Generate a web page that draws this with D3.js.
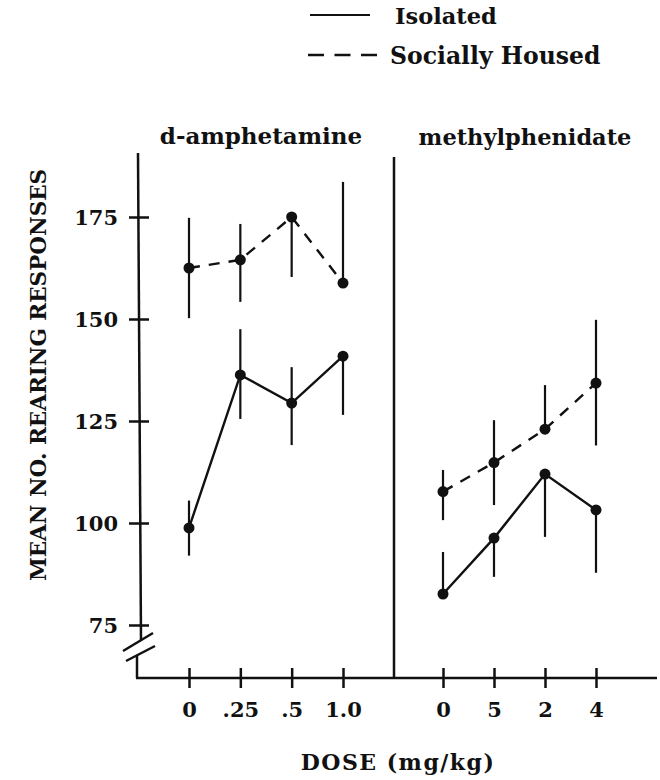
<!DOCTYPE html>
<html>
<head>
<meta charset="utf-8">
<script src="https://cdn.jsdelivr.net/npm/d3@7/dist/d3.min.js"></script>
<style>
  html, body { margin: 0; padding: 0; background: #fff; }
  svg { display: block; }
  text { font-family: "DejaVu Serif", serif; font-weight: bold; fill: #111; }
</style>
</head>
<body>
<svg id="chart" width="660" height="780"></svg>
<script>
// ---- data ----
const ampDoses = ["0", ".25", ".5", "1.0"];
const mphDoses = ["0", "5", "2", "4"];
const yTicks = [75, 100, 125, 150, 175];

const ampIsolated      = [98.8, 136.3, 129.4, 140.9];
const ampIsolatedLo    = [92.0, 125.5, 119.1, 126.5];
const ampIsolatedHi    = [105.5, 147.5, 138.2, 140.9];
const ampSocial        = [162.5, 164.5, 175.0, 158.8];
const ampSocialLo      = [150.2, 154.2, 160.3, 158.8];
const ampSocialHi      = [174.8, 173.3, 175.0, 183.6];

const mphIsolated      = [82.6, 96.3, 112.0, 103.2];
const mphIsolatedLo    = [82.6, 86.8, 96.6, 87.8];
const mphIsolatedHi    = [92.9, 96.3, 112.0, 103.2];
const mphSocial        = [107.7, 114.8, 123.0, 134.3];
const mphSocialLo      = [100.7, 104.4, 123.0, 119.0];
const mphSocialHi      = [113.0, 125.2, 133.8, 149.8];

const panelTitles = ["d-amphetamine", "methylphenidate"];
const seriesNames = ["Isolated", "Socially Housed"];

// ---- layout ----
const svg = d3.select("#chart");
const axisX = 138, divX = 394, rightEnd = 657;
const yTop = 153, yBase = 678;

const y = d3.scaleLinear().domain([75, 175]).range([625, 217]);
const xAmp = d3.scalePoint().domain(ampDoses).range([189, 343]);
const xMph = d3.scalePoint().domain(mphDoses).range([443, 596]);

const ink = "#111";

// left y axis line with break
svg.append("line").attr("x1", axisX).attr("x2", axisX + 3).attr("y1", yTop).attr("y2", 640)
  .attr("stroke", ink).attr("stroke-width", 2.5);
svg.append("line").attr("x1", axisX - 1).attr("x2", axisX - 1).attr("y1", 655).attr("y2", yBase)
  .attr("stroke", ink).attr("stroke-width", 2.5);
// break marks
[[123, 651, 153, 633], [126, 661, 155, 646]].forEach(b => {
  svg.append("line").attr("x1", b[0]).attr("y1", b[1]).attr("x2", b[2]).attr("y2", b[3])
    .attr("stroke", ink).attr("stroke-width", 2.5);
});

// y ticks via d3 axis
const yAxis = d3.axisLeft(y).tickValues(yTicks).tickSize(9).tickPadding(11).tickFormat(d3.format("d"));
const gy = svg.append("g").attr("transform", `translate(${axisX},0)`).call(yAxis);
gy.select(".domain").remove();
gy.selectAll(".tick line").attr("x1", 11).attr("stroke", ink).attr("stroke-width", 2.5);
gy.selectAll(".tick text").attr("font-size", 21).attr("font-family", "DejaVu Serif")
  .attr("font-weight", "bold").attr("fill", ink).attr("dy", "0.36em");

// divider
svg.append("line").attr("x1", divX).attr("x2", divX).attr("y1", 157).attr("y2", yBase + 1)
  .attr("stroke", ink).attr("stroke-width", 2.5);

// bottom axes
function bottomAxis(scale, x0, x1) {
  const g = svg.append("g").attr("transform", `translate(0,${yBase})`)
    .call(d3.axisBottom(scale).tickSize(10).tickPadding(10));
  g.select(".domain").remove();
  g.append("line").attr("x1", x0).attr("x2", x1).attr("y1", 0).attr("y2", 0)
    .attr("stroke", ink).attr("stroke-width", 2.5);
  g.selectAll(".tick line").attr("y1", -10).attr("stroke", ink).attr("stroke-width", 2.5);
  g.selectAll(".tick text").attr("font-size", 21).attr("font-family", "DejaVu Serif")
    .attr("font-weight", "bold").attr("fill", ink).attr("dy", "0.9em");
}
bottomAxis(xAmp, axisX - 2, divX);
bottomAxis(xMph, divX, rightEnd);

// panel titles
svg.append("text").attr("x", 261).attr("y", 144).attr("text-anchor", "middle")
  .attr("font-size", 23).text(panelTitles[0]);
svg.append("text").attr("x", 525).attr("y", 145).attr("text-anchor", "middle")
  .attr("font-size", 22.5).text(panelTitles[1]);

// axis titles
svg.append("text").attr("transform", "translate(46,375) rotate(-90)").attr("text-anchor", "middle")
  .attr("font-size", 21.5).text("MEAN NO. REARING RESPONSES");
svg.append("text").attr("x", 398).attr("y", 770).attr("text-anchor", "middle")
  .attr("font-size", 22).attr("letter-spacing", 1.5).text("DOSE (mg/kg)");

// series drawing
function drawSeries(scale, doses, vals, lo, hi, dashed) {
  const g = svg.append("g");
  doses.forEach((d, i) => {
    g.append("line").attr("x1", scale(d)).attr("x2", scale(d))
      .attr("y1", y(hi[i])).attr("y2", y(lo[i]))
      .attr("stroke", ink).attr("stroke-width", 2.2);
  });
  const line = d3.line().x((v, i) => scale(doses[i])).y(v => y(v));
  g.append("path").attr("d", line(vals)).attr("fill", "none").attr("stroke", ink)
    .attr("stroke-width", 2.4).attr("stroke-dasharray", dashed ? "11,9" : null);
  g.selectAll("circle.pt").data(vals).join("circle")
    .attr("cx", (v, i) => scale(doses[i])).attr("cy", v => y(v)).attr("r", 5.5).attr("fill", ink);
}
drawSeries(xAmp, ampDoses, ampIsolated, ampIsolatedLo, ampIsolatedHi, false);
drawSeries(xAmp, ampDoses, ampSocial, ampSocialLo, ampSocialHi, true);
drawSeries(xMph, mphDoses, mphIsolated, mphIsolatedLo, mphIsolatedHi, false);
drawSeries(xMph, mphDoses, mphSocial, mphSocialLo, mphSocialHi, true);

// legend
svg.append("line").attr("x1", 310).attr("x2", 370).attr("y1", 15).attr("y2", 15)
  .attr("stroke", ink).attr("stroke-width", 2);
svg.append("text").attr("x", 395).attr("y", 24).attr("font-size", 22.5).text(seriesNames[0]);
svg.append("line").attr("x1", 308).attr("x2", 377).attr("y1", 55).attr("y2", 55)
  .attr("stroke", ink).attr("stroke-width", 2.4).attr("stroke-dasharray", "16,10.5");
svg.append("text").attr("x", 390).attr("y", 64).attr("font-size", 23.5).text(seriesNames[1]);
</script>
</body>
</html>
